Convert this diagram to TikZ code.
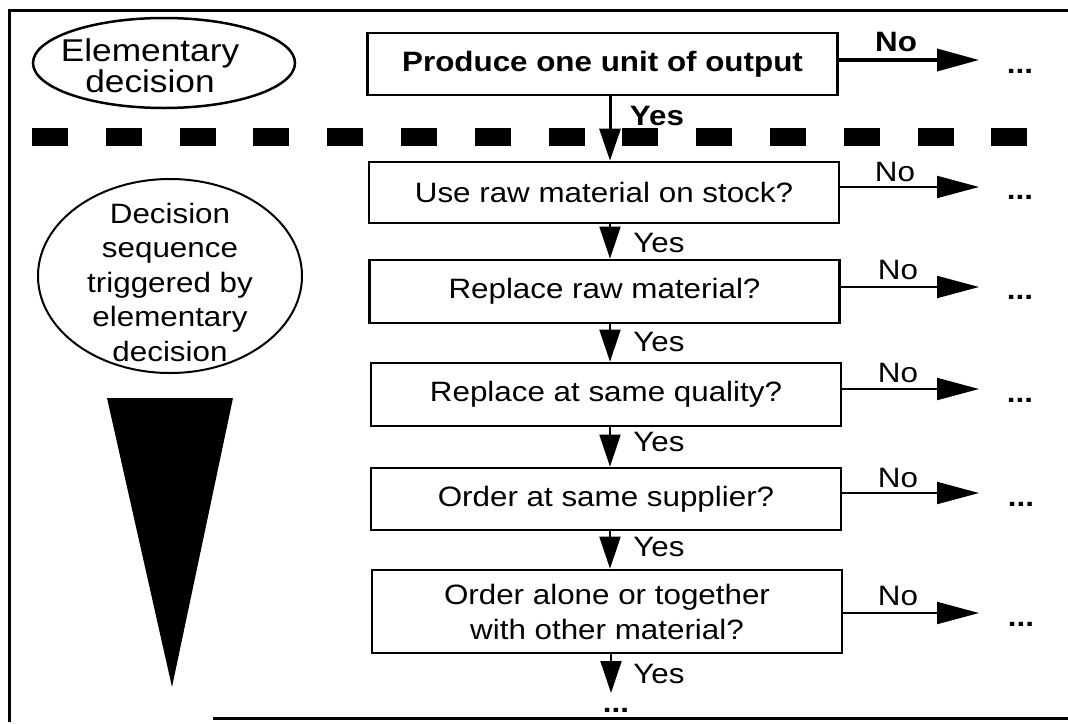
\documentclass[tikz,border=0pt]{standalone}
\usepackage{fontspec}
\setmainfont{Liberation Sans}[FakeStretch=1.12]
\usetikzlibrary{arrows.meta,shapes.geometric}
\begin{document}
\begin{tikzpicture}[x=1pt,y=-1pt,
  every node/.style={font=\fontsize{28}{34}\selectfont},
  box/.style={draw, line width=2.7pt, minimum width=470pt, inner sep=0pt, align=center},
  noarrow/.style={line width=2pt, -{Triangle[length=42pt,width=22pt]}},
  yesarrow/.style={line width=2pt, -{Triangle[length=32pt,width=21pt]}},
  lbl/.style={inner sep=0pt},
  dots/.style={inner sep=0pt, anchor=base, font=\fontsize{28}{34}\selectfont\bfseries},
  frame/.style={line width=3pt}]
\useasboundingbox (0,0) rectangle (1068,723);

% frame
\coordinate (fTL) at (9,10);
\coordinate (fTR) at (1068,10);
\coordinate (fBL) at (9,722);
\coordinate (fB1) at (213,718);
\coordinate (fB2) at (1068,718);
\draw[frame] (fTR) -- (fTL) -- (fBL);
\draw[frame] (fB1) -- (fB2);

% dashed separator
\coordinate (dL) at (32,137);
\coordinate (dR) at (1040,137);
\draw[line width=18pt, dash pattern=on 36pt off 37.8pt] (dL) -- (dR);

% left ellipses and wedge
\node[draw, ellipse, line width=2.5pt, minimum width=262pt, minimum height=90pt, inner sep=0pt] (elem) at (164,63) {};
\node[lbl, align=center, font=\fontsize{31.5}{31}\selectfont] (elemtxt) at (150,66) {Elementary\\decision};
\node[draw, ellipse, line width=2pt, minimum width=264pt, minimum height=194pt, inner sep=0pt] (seq) at (170,276) {};
\node[lbl, align=center, font=\fontsize{28}{34.5}\selectfont] (seqtxt) at (170,282) {Decision\\sequence\\triggered by\\elementary\\decision};
\fill (107,398) -- (233,398) -- (172,687) -- cycle;

% boxes
\node[box, minimum height=62pt, font=\fontsize{28}{34}\selectfont\bfseries] (b0) at (602.5,64) {Produce one unit of output};
\node[box, minimum height=61pt] (b1) at (604,192.5) {Use raw material on stock?};
\node[box, minimum height=63pt] (b2) at (604.5,291.5) {Replace raw material?};
\node[box, minimum height=63pt] (b3) at (606,394.5) {Replace at same quality?};
\node[box, minimum height=62pt] (b4) at (606,499) {Order at same supplier?};
\node[box, minimum height=83pt, font=\fontsize{28}{35}\selectfont] (b5) at (607,611.5) {Order alone or together\\with other material?};

% No arrows
\coordinate (n0) at (979,60);
\coordinate (n1) at (979,187);
\coordinate (n2) at (979,287);
\coordinate (n3) at (979,389);
\coordinate (n4) at (979,493);
\coordinate (n5) at (979,613);
\draw[noarrow, line width=3.5pt] (b0.east |- n0) -- (n0);
\draw[noarrow] (b1.east |- n1) -- (n1);
\draw[noarrow] (b2.east |- n2) -- (n2);
\draw[noarrow] (b3.east |- n3) -- (n3);
\draw[noarrow] (b4.east |- n4) -- (n4);
\draw[noarrow] (b5.east |- n5) -- (n5);

\node[lbl, font=\fontsize{28}{34}\selectfont\bfseries] (no0) at (896,42) {No};
\node[lbl] (no1) at (895,172) {No};
\node[lbl] (no2) at (898,270) {No};
\node[lbl] (no3) at (898,373) {No};
\node[lbl] (no4) at (898,478) {No};
\node[lbl] (no5) at (898,596) {No};

\node[dots] (d0) at (1020,73) {...};
\node[dots] (d1) at (1020,199) {...};
\node[dots] (d2) at (1020,299) {...};
\node[dots] (d3) at (1020,402) {...};
\node[dots] (d4) at (1021,506) {...};
\node[dots] (d5) at (1021,626) {...};

% Yes arrows
\coordinate (yx) at (610,0);
\coordinate (yend) at (611,693);
\draw[yesarrow, line width=3pt] (b0.south -| yx) -- (b1.north -| yx);
\draw[yesarrow] (b1.south -| yx) -- (b2.north -| yx);
\draw[yesarrow] (b2.south -| yx) -- (b3.north -| yx);
\draw[yesarrow] (b3.south -| yx) -- (b4.north -| yx);
\draw[yesarrow] (b4.south -| yx) -- (b5.north -| yx);
\draw[yesarrow] (b5.south -| yend) -- (yend);

\node[lbl, font=\fontsize{28}{34}\selectfont\bfseries] (y0) at (657,116) {Yes};
\node[lbl] (y1) at (659,243) {Yes};
\node[lbl] (y2) at (659,342) {Yes};
\node[lbl] (y3) at (659,442) {Yes};
\node[lbl] (y4) at (659,547) {Yes};
\node[lbl] (y5) at (659,674) {Yes};
\node[dots] (d6) at (616,712) {...};
\end{tikzpicture}
\end{document}
